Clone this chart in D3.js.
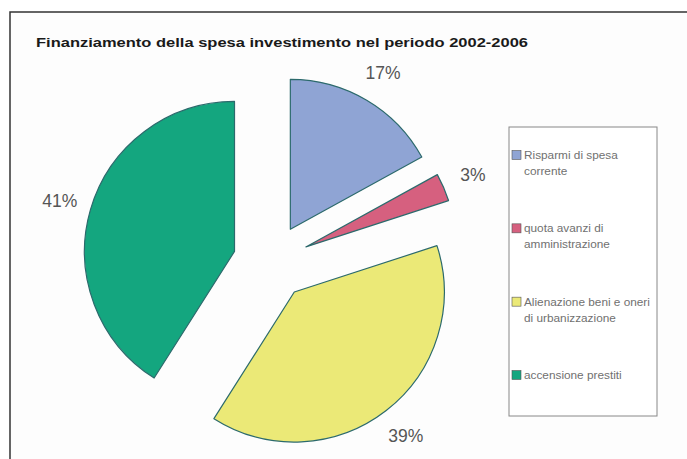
<!DOCTYPE html>
<html>
<head>
<meta charset="utf-8">
<script src="https://cdn.jsdelivr.net/npm/d3@7"></script>
<style>
  body { margin: 0; background: #fff; }
  svg { display: block; }
</style>
</head>
<body>
<div id="chart"></div>
<script>
// chart data
var categories = ["Risparmi di spesa corrente", "quota avanzi di amministrazione",
                  "Alienazione beni e oneri di urbanizzazione", "accensione prestiti"];
var values = [17, 3, 39, 41];
var pctLabels = ["17%", "3%", "39%", "41%"];
// legend text as it wraps in the box
var legendLines = [["Risparmi di spesa", "corrente"],
                   ["quota avanzi di", "amministrazione"],
                   ["Alienazione beni e oneri", "di urbanizzazione"],
                   ["accensione prestiti"]];
var title = "Finanziamento della spesa investimento nel periodo 2002-2006";

var colors = ["#8fa4d4", "#d6607f", "#ebe977", "#14a67f"];

var width = 687, height = 459;

var svg = d3.select("#chart").append("svg")
    .attr("width", width)
    .attr("height", height);

// outer frame, runs off the right and bottom edge like in the scan
svg.append("rect")
    .attr("x", 10).attr("y", 12)
    .attr("width", 700).attr("height", 470)
    .attr("fill", "#fdfdfd")
    .attr("stroke", "#333")
    .attr("stroke-width", 1.5);

svg.append("text")
    .attr("x", 36).attr("y", 47)
    .attr("font-family", "Liberation Sans, Arial, sans-serif")
    .attr("font-size", 12.5)
    .attr("font-weight", "bold")
    .attr("fill", "#1a1a1a")
    .attr("textLength", 492)
    .attr("lengthAdjust", "spacingAndGlyphs")
    .text(title);

// pie
var cx = 271, cy = 262, radius = 150, explode = 38, labelR = 182;

var pie = d3.pie().sort(null).value(function(d){ return d; });
var arcs = pie(values);
var arc = d3.arc().innerRadius(0).outerRadius(radius);

function mid(d){ return (d.startAngle + d.endAngle) / 2; }

var g = svg.append("g").attr("transform", "translate(" + cx + "," + cy + ")");

var slices = g.selectAll("g.slice")
    .data(arcs)
    .enter()
    .append("g")
    .attr("class", "slice")
    .attr("transform", function(d){
        var a = mid(d);
        return "translate(" + (Math.sin(a) * explode) + "," + (-Math.cos(a) * explode) + ")";
    });

slices.append("path")
    .attr("d", arc)
    .attr("fill", function(d, i){ return colors[i]; })
    .attr("stroke", "#2c6a6c")
    .attr("stroke-width", 1.2)
    .attr("stroke-linejoin", "round");

// percentage labels sit outside the end of each exploded slice
slices.append("text")
    .attr("x", function(d){ return Math.sin(mid(d)) * labelR; })
    .attr("y", function(d){ return -Math.cos(mid(d)) * labelR; })
    .attr("text-anchor", "middle")
    .attr("dominant-baseline", "central")
    .attr("font-family", "Liberation Sans, Arial, sans-serif")
    .attr("font-size", 17.5)
    .attr("fill", "#555")
    .text(function(d, i){ return pctLabels[i]; });

// legend
var legend = svg.append("g");
legend.append("rect")
    .attr("x", 509).attr("y", 127)
    .attr("width", 148).attr("height", 289)
    .attr("fill", "#fff")
    .attr("stroke", "#888")
    .attr("stroke-width", 1);

var itemY = d3.scalePoint().domain(d3.range(categories.length)).range([155, 375]);

var items = legend.selectAll("g.item")
    .data(categories)
    .enter()
    .append("g")
    .attr("class", "item")
    .attr("transform", function(d, i){ return "translate(0," + itemY(i) + ")"; });

items.append("rect")
    .attr("x", 512).attr("y", -4.5)
    .attr("width", 9).attr("height", 9)
    .attr("fill", function(d, i){ return colors[i]; })
    .attr("stroke", "#555")
    .attr("stroke-width", 0.6);

items.each(function(d, i){
    var t = d3.select(this).append("text")
        .attr("font-family", "Liberation Sans, Arial, sans-serif")
        .attr("font-size", 11.8)
        .attr("fill", "#707070");
    legendLines[i].forEach(function(line, k){
        t.append("tspan")
            .attr("x", 524)
            .attr("y", 4 + k * 16)
            .text(line);
    });
});
</script>
</body>
</html>
